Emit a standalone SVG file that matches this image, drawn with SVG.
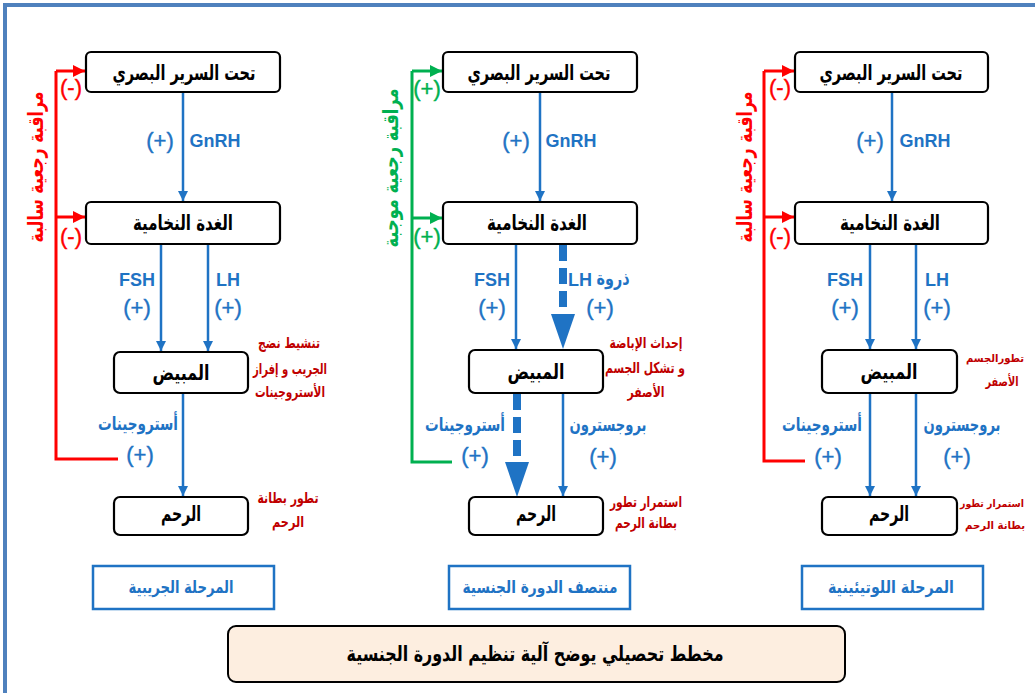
<svg xmlns="http://www.w3.org/2000/svg" width="1035" height="693" viewBox="0 0 1035 693">
<defs>
<style>
.node{fill:#fff;stroke:#000;stroke-width:2.2}
.nt{font-family:"DejaVu Sans",sans-serif;font-weight:bold;font-size:21px;fill:#000;text-anchor:middle}
.bl{font-family:"DejaVu Sans",sans-serif;font-weight:bold;font-size:19px;fill:#1f73c4;text-anchor:middle}
.lt{font-family:"Liberation Sans",sans-serif;font-weight:bold;font-size:18px;fill:#1f73c4;text-anchor:middle}
.pl{font-family:"Liberation Sans",sans-serif;font-size:22px;fill:#1f73c4;text-anchor:middle;stroke:#1f73c4;stroke-width:0.4}
.rt{font-family:"DejaVu Sans",sans-serif;font-weight:bold;font-size:15px;fill:#c00000;text-anchor:middle}
.re{font-family:"DejaVu Sans",sans-serif;font-weight:bold;font-size:13px;fill:#c00000;text-anchor:middle}
.rs{font-family:"DejaVu Sans",sans-serif;font-weight:bold;font-size:11px;fill:#c00000;text-anchor:middle}
.red{font-family:"Liberation Sans",sans-serif;font-size:22px;fill:#ff0000;text-anchor:middle;stroke:#ff0000;stroke-width:0.4}
.grn{font-family:"Liberation Sans",sans-serif;font-size:22px;fill:#00b050;text-anchor:middle;stroke:#00b050;stroke-width:0.4}
.vr{font-family:"DejaVu Sans",sans-serif;font-weight:bold;font-size:21px;text-anchor:middle}
.ph{fill:#fff;stroke:#1f73c4;stroke-width:2.5}
.pt{font-family:"DejaVu Sans",sans-serif;font-weight:bold;font-size:17px;fill:#1f73c4;text-anchor:middle}
.ab{stroke:#1f73c4;stroke-width:2.5;fill:none;marker-end:url(#mb)}
.db{stroke:#1f73c4;stroke-width:8;fill:none;stroke-dasharray:16 7}
.fr{stroke:#ff0000;stroke-width:3;fill:none}
.fg{stroke:#00b050;stroke-width:3;fill:none}
</style>
<marker id="mb" markerUnits="userSpaceOnUse" markerWidth="12" markerHeight="12" refX="10" refY="5" orient="auto"><path d="M0,0 L10,5 L0,10 z" fill="#1f73c4"/></marker>
<marker id="mr" markerUnits="userSpaceOnUse" markerWidth="14" markerHeight="14" refX="12" refY="6" orient="auto"><path d="M0,0 L12,6 L0,12 z" fill="#ff0000"/></marker>
<marker id="mg" markerUnits="userSpaceOnUse" markerWidth="14" markerHeight="14" refX="12" refY="6" orient="auto"><path d="M0,0 L12,6 L0,12 z" fill="#00b050"/></marker>
</defs>
<rect width="1035" height="693" fill="#fff"/>
<path d="M5,693 V5 H1035" fill="none" stroke="#4f81bd" stroke-width="4"/>

<g id="connectors">
<line class="ab" x1="183" y1="92" x2="183" y2="201"/>
<line class="ab" x1="161" y1="244" x2="161" y2="351"/>
<line class="ab" x1="208" y1="244" x2="208" y2="351"/>
<line class="ab" x1="183" y1="393" x2="183" y2="496"/>
<path class="fr" d="M118,459 H56 V71"/>
<line class="fr" x1="56" y1="71" x2="85" y2="71" marker-end="url(#mr)"/>
<line class="fr" x1="56" y1="217" x2="85" y2="217" marker-end="url(#mr)"/>
<line class="ab" x1="540" y1="92" x2="540" y2="201"/>
<line class="ab" x1="516" y1="244" x2="516" y2="349"/>
<line class="db" x1="563" y1="245" x2="563" y2="316"/>
<polygon points="551,314 575,314 563,349" fill="#1f73c4"/>
<line class="db" x1="517" y1="394" x2="517" y2="464"/>
<polygon points="505,462 529,462 517,497" fill="#1f73c4"/>
<line class="ab" x1="563" y1="393" x2="563" y2="496"/>
<path class="fg" d="M452,462 H412 V71"/>
<line class="fg" x1="412" y1="71" x2="442" y2="71" marker-end="url(#mg)"/>
<line class="fg" x1="412" y1="218" x2="442" y2="218" marker-end="url(#mg)"/>
<line class="ab" x1="892" y1="92" x2="892" y2="201"/>
<line class="ab" x1="870" y1="244" x2="870" y2="349"/>
<line class="ab" x1="916" y1="244" x2="916" y2="349"/>
<line class="ab" x1="870" y1="393" x2="870" y2="496"/>
<line class="ab" x1="916" y1="393" x2="916" y2="496"/>
<path class="fr" d="M805,461 H764 V71"/>
<line class="fr" x1="764" y1="71" x2="794" y2="71" marker-end="url(#mr)"/>
<line class="fr" x1="764" y1="217" x2="794" y2="217" marker-end="url(#mr)"/>
</g>

<g id="l-hypo"><rect class="node" x="86" y="52" width="194" height="40" rx="5"/><text class="nt" x="184" y="80" textLength="143" lengthAdjust="spacingAndGlyphs">تحت السرير البصري</text></g>
<g id="l-pit"><rect class="node" x="86" y="202" width="194" height="42" rx="5"/><text class="nt" x="183" y="230" textLength="100" lengthAdjust="spacingAndGlyphs">الغدة النخامية</text></g>
<g id="l-ova"><rect class="node" x="114" y="352" width="134" height="41" rx="6"/><text class="nt" x="181" y="380" textLength="57" lengthAdjust="spacingAndGlyphs">المبيض</text></g>
<g id="l-ut"><rect class="node" x="114" y="497" width="134" height="38" rx="6"/><text class="nt" x="181" y="521" textLength="40" lengthAdjust="spacingAndGlyphs">الرحم</text></g>
<g id="l-labels">
<text class="pl" x="160" y="148">(+)</text><text class="lt" x="215" y="147">GnRH</text>
<text class="lt" x="137" y="286">FSH</text><text class="pl" x="137" y="315">(+)</text>
<text class="lt" x="228" y="286">LH</text><text class="pl" x="228" y="315">(+)</text>
<text class="bl" x="138" y="430" textLength="80" lengthAdjust="spacingAndGlyphs">أستروجينات</text><text class="pl" x="140" y="462">(+)</text>
<text class="red" x="71" y="95">(-)</text><text class="red" x="71" y="244">(-)</text>
<text class="vr" fill="#ff0000" transform="translate(43,167) rotate(-90)" textLength="151" lengthAdjust="spacingAndGlyphs">مراقبة رجعية سالبة</text>
<text class="rt" x="289" y="348" textLength="62" lengthAdjust="spacingAndGlyphs">تنشيط نضج</text>
<text class="rt" x="290" y="374" textLength="74" lengthAdjust="spacingAndGlyphs">الجريب و إفراز</text>
<text class="rt" x="290" y="397" textLength="70" lengthAdjust="spacingAndGlyphs">الأستروجينات</text>
<text class="rt" x="288" y="503" textLength="61" lengthAdjust="spacingAndGlyphs">تطور بطانة</text>
<text class="rt" x="288" y="527" textLength="32" lengthAdjust="spacingAndGlyphs">الرحم</text>
</g>

<g id="m-hypo"><rect class="node" x="443" y="52" width="194" height="40" rx="5"/><text class="nt" x="539" y="80" textLength="143" lengthAdjust="spacingAndGlyphs">تحت السرير البصري</text></g>
<g id="m-pit"><rect class="node" x="443" y="202" width="194" height="42" rx="5"/><text class="nt" x="537" y="230" textLength="100" lengthAdjust="spacingAndGlyphs">الغدة النخامية</text></g>
<g id="m-ova"><rect class="node" x="469" y="350" width="134" height="43" rx="6"/><text class="nt" x="536" y="379" textLength="57" lengthAdjust="spacingAndGlyphs">المبيض</text></g>
<g id="m-ut"><rect class="node" x="469" y="497" width="134" height="38" rx="6"/><text class="nt" x="536" y="521" textLength="40" lengthAdjust="spacingAndGlyphs">الرحم</text></g>
<g id="m-labels">
<text class="pl" x="516" y="148">(+)</text><text class="lt" x="571" y="147">GnRH</text>
<text class="lt" x="492" y="286">FSH</text><text class="pl" x="492" y="315">(+)</text>
<text class="lt" x="580" y="286">LH</text><text class="bl" x="613" y="285" textLength="33" lengthAdjust="spacingAndGlyphs">ذروة</text><text class="pl" x="600" y="315">(+)</text>
<text class="bl" x="465" y="431" textLength="80" lengthAdjust="spacingAndGlyphs">أستروجينات</text><text class="pl" x="475" y="463">(+)</text>
<text class="bl" x="608" y="431" textLength="77" lengthAdjust="spacingAndGlyphs">بروجسترون</text><text class="pl" x="603" y="464">(+)</text>
<text class="grn" x="427" y="96">(+)</text><text class="grn" x="427" y="244">(+)</text>
<text class="vr" fill="#00b050" transform="translate(398,168) rotate(-90)" textLength="159" lengthAdjust="spacingAndGlyphs">مراقبة رجعية موجبة</text>
<text class="rt" x="646" y="348" textLength="73" lengthAdjust="spacingAndGlyphs">إحداث الإباضة</text>
<text class="rt" x="645" y="373" textLength="80" lengthAdjust="spacingAndGlyphs">و تشكل الجسم</text>
<text class="rt" x="646" y="397" textLength="37" lengthAdjust="spacingAndGlyphs">الأصفر</text>
<text class="rt" x="646" y="507" textLength="72" lengthAdjust="spacingAndGlyphs">استمرار تطور</text>
<text class="rt" x="646" y="528" textLength="62" lengthAdjust="spacingAndGlyphs">بطانة الرحم</text>
</g>

<g id="r-hypo"><rect class="node" x="795" y="52" width="193" height="40" rx="5"/><text class="nt" x="891" y="80" textLength="143" lengthAdjust="spacingAndGlyphs">تحت السرير البصري</text></g>
<g id="r-pit"><rect class="node" x="795" y="202" width="193" height="42" rx="5"/><text class="nt" x="890" y="230" textLength="100" lengthAdjust="spacingAndGlyphs">الغدة النخامية</text></g>
<g id="r-ova"><rect class="node" x="822" y="350" width="135" height="43" rx="6"/><text class="nt" x="889" y="379" textLength="57" lengthAdjust="spacingAndGlyphs">المبيض</text></g>
<g id="r-ut"><rect class="node" x="822" y="497" width="135" height="38" rx="6"/><text class="nt" x="889" y="521" textLength="40" lengthAdjust="spacingAndGlyphs">الرحم</text></g>
<g id="r-labels">
<text class="pl" x="870" y="148">(+)</text><text class="lt" x="925" y="147">GnRH</text>
<text class="lt" x="845" y="286">FSH</text><text class="pl" x="845" y="315">(+)</text>
<text class="lt" x="937" y="286">LH</text><text class="pl" x="937" y="315">(+)</text>
<text class="bl" x="822" y="431" textLength="80" lengthAdjust="spacingAndGlyphs">أستروجينات</text><text class="pl" x="828" y="464">(+)</text>
<text class="bl" x="962" y="431" textLength="77" lengthAdjust="spacingAndGlyphs">بروجسترون</text><text class="pl" x="957" y="464">(+)</text>
<text class="red" x="780" y="95">(-)</text><text class="red" x="780" y="244">(-)</text>
<text class="vr" fill="#ff0000" transform="translate(752,167) rotate(-90)" textLength="151" lengthAdjust="spacingAndGlyphs">مراقبة رجعية سالبة</text>
<text class="rs" x="995" y="362" textLength="58" lengthAdjust="spacingAndGlyphs">تطورالجسم</text>
<text class="re" x="1002" y="386" textLength="33" lengthAdjust="spacingAndGlyphs">الأصفر</text>
<text class="rs" x="992" y="507" textLength="64" lengthAdjust="spacingAndGlyphs" style="font-size:10.5px">استمرار تطور</text>
<text class="rs" x="995" y="529" textLength="60" lengthAdjust="spacingAndGlyphs">بطانة الرحم</text>
</g>

<g id="phase-l"><rect class="ph" x="93" y="566" width="181" height="43"/><text class="pt" x="181" y="593" textLength="105" lengthAdjust="spacingAndGlyphs">المرحلة الجريبية</text></g>
<g id="phase-m"><rect class="ph" x="449" y="566" width="181" height="43"/><text class="pt" x="540" y="593" textLength="155" lengthAdjust="spacingAndGlyphs">منتصف الدورة الجنسية</text></g>
<g id="phase-r"><rect class="ph" x="802" y="566" width="181" height="43"/><text class="pt" x="891" y="593" textLength="126" lengthAdjust="spacingAndGlyphs">المرحلة اللوتيئينية</text></g>
<g id="title"><rect x="228" y="626" width="617" height="56" rx="8" fill="#fdeee0" stroke="#000" stroke-width="2"/><text class="nt" x="535" y="661" textLength="377" lengthAdjust="spacingAndGlyphs">مخطط تحصيلي يوضح آلية تنظيم الدورة الجنسية</text></g>
</svg>
